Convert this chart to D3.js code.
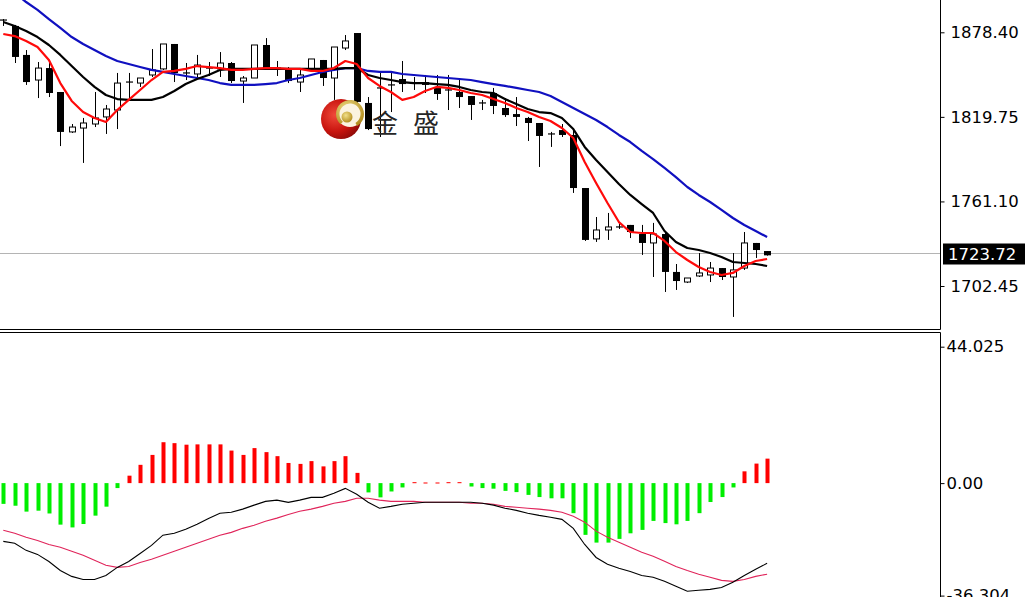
<!DOCTYPE html>
<html><head><meta charset="utf-8">
<script src="https://cdn.jsdelivr.net/npm/d3@7"></script>
<style>html,body{margin:0;padding:0;background:#fff;overflow:hidden}</style>
</head><body><svg id="c" width="1028" height="597"></svg>
<script>
const opens = [1886.9,1882.8,1862.7,1845.3,1853.6,1837.0,1809.3,1812.0,1814.8,1819.7,
1824.5,1843.2,1843.2,1848.8,1853.0,1870.3,1850.2,1849.5,1853.6,1853.0,
1857.1,1844.6,1846.7,1869.6,1853.6,1853.6,1843.9,1853.0,1859.2,1846.7,
1867.5,1877.9,1829.4,1839.8,1841.9,1846.0,1843.2,1843.9,1839.8,1838.4,
1837.0,1834.2,1829.4,1836.3,1825.9,1821.7,1819.0,1815.5,1807.9,1810.6,
1807.2,1770.4,1735.1,1741.3,1743.4,1744.8,1738.5,1732.3,1738.5,1712.2,
1705.2,1709.4,1710.1,1714.9,1708.7,1714.9,1732.3,1726.7];
const highs = [1887.6,1883.5,1866.1,1857.8,1859.2,1837.0,1814.8,1819.0,1837.0,1828.0,
1850.2,1850.2,1846.7,1866.8,1870.3,1870.3,1857.1,1862.7,1857.8,1864.7,
1857.8,1848.1,1869.6,1874.4,1858.5,1854.3,1853.6,1859.9,1859.2,1868.2,
1876.5,1877.9,1833.5,1850.9,1850.9,1858.5,1847.4,1848.8,1848.8,1848.8,
1846.7,1834.2,1831.5,1839.8,1832.8,1833.5,1819.7,1815.5,1809.3,1814.8,
1810.6,1770.4,1750.3,1753.1,1745.5,1744.8,1744.8,1746.2,1739.9,1717.7,
1708.0,1725.3,1719.1,1714.9,1725.3,1739.9,1732.3,1726.7];
const lows = [1882.8,1857.1,1841.9,1832.8,1833.5,1799.5,1808.6,1787.8,1812.7,1807.9,
1811.3,1831.5,1840.5,1847.4,1852.3,1843.9,1845.3,1846.7,1848.1,1847.4,
1843.2,1829.4,1846.7,1853.6,1848.1,1843.2,1837.0,1852.3,1841.2,1831.5,
1866.1,1829.4,1810.6,1805.8,1823.1,1837.0,1838.4,1836.3,1831.5,1824.5,
1825.9,1817.6,1824.5,1821.7,1819.7,1813.4,1803.0,1785.0,1798.9,1805.8,
1767.0,1733.7,1733.0,1734.4,1742.0,1735.7,1724.0,1708.7,1698.3,1699.7,
1704.5,1708.7,1705.2,1706.6,1681.0,1713.6,1721.9,1723.5];
const closes = [1886.2,1861.3,1843.9,1853.6,1836.3,1809.3,1812.7,1815.5,1819.0,1825.2,
1843.2,1843.9,1846.7,1852.3,1870.3,1850.2,1850.2,1855.7,1853.6,1857.1,
1844.6,1846.7,1869.6,1853.6,1853.6,1844.6,1848.8,1859.9,1846.7,1868.2,
1872.4,1830.1,1811.3,1839.8,1841.9,1842.5,1843.2,1841.9,1835.6,1838.4,
1833.5,1828.0,1829.4,1827.3,1821.0,1819.7,1815.5,1806.5,1807.9,1807.2,
1770.4,1734.4,1741.3,1743.4,1743.4,1739.9,1732.3,1738.5,1712.2,1705.9,
1708.0,1711.5,1714.9,1708.7,1713.6,1732.3,1727.4,1723.72];

const maRed = [1877.2,1875.8,1872.4,1868.2,1859.2,1843.2,1830.8,1823.1,1819.0,1816.2,
1824.5,1831.5,1838.4,1845.3,1850.9,1851.6,1853.0,1855.0,1854.3,1853.6,
1852.3,1852.3,1853.0,1853.6,1853.6,1853.0,1853.0,1851.6,1851.6,1853.6,
1858.5,1856.4,1846.7,1841.2,1837.0,1831.5,1833.5,1837.7,1840.5,1839.8,
1838.4,1836.3,1834.9,1832.1,1829.4,1825.9,1823.1,1819.7,1816.9,1812.0,
1805.1,1788.5,1773.9,1760.0,1746.8,1739.9,1739.2,1739.2,1733.7,1726.0,
1720.5,1715.6,1712.2,1710.1,1711.5,1716.3,1719.8,1721.2];
const maBlack = [1885.5,1882.8,1879.3,1875.1,1869.6,1862.7,1855.0,1847.4,1840.5,1834.9,
1832.1,1831.5,1831.5,1831.5,1833.5,1837.7,1842.5,1846.0,1848.8,1852.3,
1853.0,1853.0,1853.0,1853.0,1853.0,1853.0,1853.0,1853.0,1853.0,1853.0,
1853.6,1853.6,1848.8,1846.7,1845.3,1843.9,1843.2,1843.2,1842.5,1841.9,
1840.5,1838.4,1837.0,1836.3,1832.1,1828.7,1825.2,1823.1,1822.4,1819.0,
1811.3,1798.9,1789.8,1781.5,1773.2,1765.6,1759.3,1753.1,1740.6,1733.0,
1728.8,1727.4,1725.3,1722.6,1719.1,1718.4,1717.7,1716.3];
const maBlue = [1913.3,1905.7,1899.4,1893.9,1887.6,1881.4,1875.1,1870.3,1866.1,1862.0,
1858.5,1856.4,1854.3,1852.3,1850.9,1849.5,1848.1,1846.7,1845.3,1843.2,
1841.9,1841.9,1841.9,1842.5,1843.2,1845.3,1846.7,1848.8,1850.9,1852.3,
1853.6,1853.6,1851.6,1850.9,1850.9,1849.5,1848.8,1848.1,1847.4,1846.7,
1846.0,1845.3,1843.9,1842.5,1841.2,1839.8,1838.4,1837.0,1834.2,1830.1,
1825.9,1821.7,1817.6,1812.7,1807.2,1802.3,1796.1,1790.5,1784.3,1778.0,
1771.1,1765.6,1760.7,1755.2,1749.6,1744.8,1740.6,1736.4];

const macdHist = [-6.7,-7.3,-9.2,-8.9,-9.8,-13.4,-14.3,-13.2,-10.5,-7.6,
-1.6,2.4,5.9,9.1,13.2,12.9,12.4,12.5,12.5,12.5,
10.5,9.1,11.3,10.0,8.7,6.5,6.2,7.1,5.4,7.1,
8.7,3.3,-3.0,-4.6,-2.7,-1.4,0.3,0.2,0.2,0.3,
0.3,-1.1,-1.6,-1.8,-2.5,-2.9,-3.8,-4.5,-4.9,-4.9,
-9.7,-16.7,-19.2,-19.2,-18.0,-16.2,-15.1,-12.2,-12.9,-13.3,
-12.2,-9.7,-6.1,-4.5,-1.4,3.8,6.3,7.9];
const macdLine = [-18.8,-19.4,-21.7,-23.0,-25.3,-28.2,-30.1,-31.1,-31.1,-29.8,
-27.2,-25.3,-22.7,-20.1,-16.8,-16.2,-14.9,-13.3,-11.4,-9.7,
-9.4,-8.4,-7.1,-5.9,-5.5,-6.2,-5.5,-4.6,-4.6,-3.3,
-1.7,-3.6,-6.2,-8.1,-7.5,-6.8,-6.5,-6.2,-6.2,-6.2,
-6.2,-6.2,-6.5,-7.1,-8.1,-8.8,-9.7,-10.4,-11.0,-11.7,
-14.6,-19.8,-24.0,-26.2,-27.5,-28.5,-29.8,-30.4,-31.7,-33.3,
-34.9,-34.6,-34.3,-33.7,-32.0,-29.8,-27.8,-25.9];
const signalLine = [-15.2,-16.2,-17.5,-18.5,-19.8,-20.7,-22.0,-23.3,-24.9,-26.5,
-27.2,-26.9,-25.6,-24.6,-23.3,-22.0,-20.7,-19.4,-18.1,-16.8,
-15.9,-14.6,-13.6,-12.3,-11.3,-10.1,-9.1,-8.4,-7.5,-6.5,
-5.9,-4.9,-4.9,-5.5,-5.9,-5.9,-5.9,-6.2,-6.2,-6.2,
-6.2,-6.5,-6.5,-6.8,-7.5,-7.8,-8.1,-8.4,-8.8,-9.4,
-10.7,-12.6,-15.5,-17.5,-19.1,-20.7,-22.3,-23.6,-25.2,-26.9,
-28.2,-29.4,-30.4,-31.4,-31.7,-31.1,-30.1,-29.4];

const priceTicks = [1878.40, 1819.75, 1761.10, 1702.45];
const macdTicks = [44.025, 0, -36.304];
const macdTickLabels = ["44.025", "0.00", "-36.304"];
const lastPrice = 1723.72;
const logoChars = ["金", "盛"];

const svg = d3.select("#c");
const n = closes.length;
const idx = d3.range(n);
const AX = 940;

const x = d3.scaleLinear().domain([0, n - 1]).range([3.3, 767.1]);
const y = d3.scaleLinear().domain([1878.40, 1702.45]).range([32.3, 286]);
const ym = d3.scaleLinear().domain([44.025, -36.304]).range([346.7, 595.6]);

const defs = svg.append("defs");
defs.append("clipPath").attr("id","cpMain").append("rect").attr("x",0).attr("y",0).attr("width",AX).attr("height",329);
defs.append("clipPath").attr("id","cpMacd").append("rect").attr("x",0).attr("y",333).attr("width",AX).attr("height",264);

const rg = defs.append("radialGradient").attr("id","gRed").attr("cx","35%").attr("cy","40%").attr("r","70%");
rg.append("stop").attr("offset","0%").attr("stop-color","#f04a3a");
rg.append("stop").attr("offset","60%").attr("stop-color","#c8140e");
rg.append("stop").attr("offset","100%").attr("stop-color","#8a0a08");
const gg = defs.append("radialGradient").attr("id","gGold").attr("cx","40%").attr("cy","35%").attr("r","70%");
gg.append("stop").attr("offset","0%").attr("stop-color","#f2e08a");
gg.append("stop").attr("offset","100%").attr("stop-color","#b08a1a");

// main panel
const main = svg.append("g").attr("clip-path","url(#cpMain)");

main.append("line").attr("x1",0).attr("x2",AX).attr("y1",253.5).attr("y2",253.5)
  .attr("stroke","#b4b4b4").attr("stroke-width",1);

// candles
const cg = main.append("g");
idx.forEach(i => {
  const cx = Math.round(x(i)) + 0.5;
  cg.append("line").attr("x1",cx).attr("x2",cx).attr("y1",y(highs[i])).attr("y2",y(lows[i]))
    .attr("stroke","#000").attr("stroke-width",1);
  const top = y(Math.max(opens[i], closes[i]));
  const bot = y(Math.min(opens[i], closes[i]));
  const up = closes[i] > opens[i];
  const h = Math.max(1, bot - top);
  if (h <= 1.5) {
    cg.append("line").attr("x1",cx-3.5).attr("x2",cx+3.5).attr("y1",top).attr("y2",top)
      .attr("stroke","#000").attr("stroke-width",1.2);
  } else if (up) {
    cg.append("rect").attr("x",cx-3).attr("y",top).attr("width",6).attr("height",h)
      .attr("fill","#fff").attr("stroke","#000").attr("stroke-width",1);
  } else {
    cg.append("rect").attr("x",cx-3.5).attr("y",top).attr("width",7).attr("height",h)
      .attr("fill","#000");
  }
});

// moving averages
const maLine = d3.line().x((d,i)=>x(i)).y(d=>y(d));
[[maBlue,"#1010c0"],[maBlack,"#000"],[maRed,"#ff0a0a"]].forEach(([arr,col]) => {
  main.append("path").datum(arr).attr("d",maLine).attr("fill","none")
    .attr("stroke",col).attr("stroke-width",2.2).attr("stroke-linejoin","round");
});

// logo watermark
const logo = svg.append("g");
logo.append("circle").attr("cx",341).attr("cy",119).attr("r",20).attr("fill","url(#gRed)");
logo.append("circle").attr("cx",350).attr("cy",114).attr("r",13).attr("fill","#fbf3e0");
logo.append("path").attr("d",d3.arc()({innerRadius:10.5,outerRadius:14,startAngle:-2.4,endAngle:2.6}))
  .attr("transform","translate(350,114)").attr("fill","url(#gGold)");
logo.append("circle").attr("cx",347).attr("cy",117).attr("r",5.5).attr("fill","url(#gGold)");
logo.selectAll("text.lc").data(logoChars).join("text")
  .attr("x",(d,i)=>372 + i*41).attr("y",133).attr("font-family","'Noto Sans CJK SC'")
  .attr("font-size",26).attr("fill","#262626").text(d=>d);

// frame
svg.append("line").attr("x1",AX+0.5).attr("x2",AX+0.5).attr("y1",0).attr("y2",329.5).attr("stroke","#000");
svg.append("line").attr("x1",0).attr("x2",AX+0.5).attr("y1",329.5).attr("y2",329.5).attr("stroke","#000");
svg.append("line").attr("x1",0).attr("x2",AX+0.5).attr("y1",332.5).attr("y2",332.5).attr("stroke","#000");
svg.append("line").attr("x1",AX+0.5).attr("x2",AX+0.5).attr("y1",332.5).attr("y2",597).attr("stroke","#000");

// price axis
const pAxis = svg.append("g").attr("transform",`translate(${AX+0.5},0)`)
  .call(d3.axisRight(y).tickValues(priceTicks).tickFormat(d3.format(".2f")).tickSize(4).tickPadding(6));
pAxis.select(".domain").remove();
pAxis.selectAll("text").attr("font-family","'DejaVu Sans'").attr("font-size",16.5).attr("fill","#000");
pAxis.selectAll("line").attr("stroke","#000");

// last price label
const ly = 254.5;
svg.append("rect").attr("x",943).attr("y",ly-11).attr("width",82).attr("height",21).attr("fill","#000");
svg.append("text").attr("x",948).attr("y",ly).attr("dy","0.35em").attr("font-family","'DejaVu Sans'")
  .attr("font-size",16.5).attr("fill","#fff").text(d3.format(".2f")(lastPrice));

// MACD panel
const mg = svg.append("g").attr("clip-path","url(#cpMacd)");
mg.selectAll("rect.h").data(macdHist).join("rect")
  .attr("x",(d,i)=>Math.round(x(i))-1.5).attr("width",4)
  .attr("y",d=>Math.min(ym(d),ym(0))).attr("height",d=>Math.max(1,Math.abs(ym(d)-ym(0))))
  .attr("fill",d=>d>=0?"#ff0000":"#00ee00");
const ml = d3.line().x((d,i)=>x(i)).y(d=>ym(d));
mg.append("path").datum(signalLine).attr("d",ml).attr("fill","none").attr("stroke","#e0245a").attr("stroke-width",1.1);
mg.append("path").datum(macdLine).attr("d",ml).attr("fill","none").attr("stroke","#000").attr("stroke-width",1.1);

const mAxis = svg.append("g").attr("transform",`translate(${AX+0.5},0)`)
  .call(d3.axisRight(ym).tickValues(macdTicks).tickFormat((d,i)=>macdTickLabels[i]).tickSize(4).tickPadding(2));
mAxis.select(".domain").remove();
mAxis.selectAll("text").attr("font-family","'DejaVu Sans'").attr("font-size",16.5).attr("fill","#000");
mAxis.selectAll("line").attr("stroke","#000");
</script></body></html>
